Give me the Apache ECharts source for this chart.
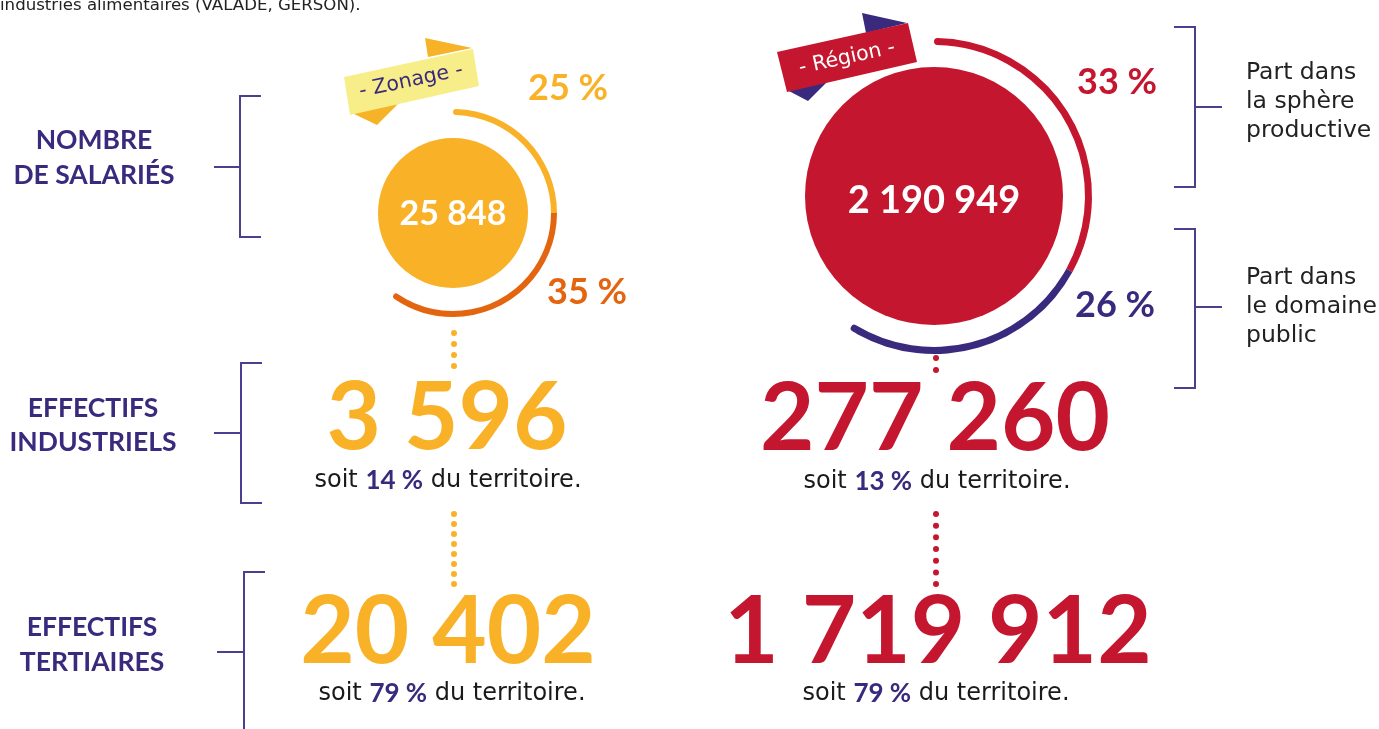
<!DOCTYPE html>
<html>
<head>
<meta charset="utf-8">
<script src="https://cdn.jsdelivr.net/npm/echarts@6/dist/echarts.min.js"></script>
<style>
  html, body { margin: 0; padding: 0; background: #fff; }
  #main { width: 1379px; height: 729px; }
</style>
</head>
<body>
<div id="main"></div>
<script>
const rowLabels = [['NOMBRE', 'DE SALARIÉS'], ['EFFECTIFS', 'INDUSTRIELS'], ['EFFECTIFS', 'TERTIAIRES']];
const zones = ['- Zonage -', '- Région -'];
const totalSalaries = [25848, 2190949];
const partProductive = [25, 33];
const partPublic = [35, 26];
const effIndus = [3596, 277260];
const pctIndus = [14, 13];
const effTert = [20402, 1719912];
const pctTert = [79, 79];
const sideLabels = [['Part dans', 'la sphère', 'productive'], ['Part dans', 'le domaine', 'public']];
const topText = 'industries alimentaires (VALADE, GERSON).';

const NAVY = '#3A2A7D';
const colors = [
  { main: '#F9B227', arc1: '#F9B227', arc2: '#E4650F', dot: '#F9B227' },
  { main: '#C4172F', arc1: '#C4172F', arc2: '#3A2A7D', dot: '#C4172F' }
];
const BOLD = 'Lato';
const REG = 'DejaVu Sans';

// mise en page
const circ = [
  { cx: 453, cy: 213, r: 75, r0: 98, r1: 104, fs: 34, dy: 1 },
  { cx: 934, cy: 196, r: 129, r0: 151, r1: 158, fs: 38, dy: 5 }
];
const pctPos = [
  [[568, 88], [587, 292]],
  [[1117, 82], [1115, 305]]
];
const bigPos = [[[447, 419], [448, 633]], [[935, 420], [938, 633]]];
const subPos = [[[448, 481], [452, 694]], [[937, 482], [936, 694]]];

const fmt = n => String(n).replace(/\B(?=(\d{3})+(?!\d))/g, ' ');

let chart = echarts.init(document.getElementById('main'));

let series = [];
circ.forEach((c, i) => {
  series.push({
    type: 'pie', silent: true, center: [c.cx, c.cy], radius: [0, c.r],
    label: { show: false }, labelLine: { show: false },
    data: [{ value: totalSalaries[i], itemStyle: { color: colors[i].main } }]
  });
  series.push({
    type: 'pie', silent: true, center: [c.cx, c.cy], radius: [c.r0, c.r1],
    startAngle: 90, clockwise: true,
    label: { show: false }, labelLine: { show: false },
    data: [
      { value: partProductive[i], itemStyle: { color: colors[i].arc1, borderRadius: [4, 0, 4, 0] } },
      { value: partPublic[i], itemStyle: { color: colors[i].arc2, borderRadius: [0, 4, 0, 4] } },
      { value: 100 - partProductive[i] - partPublic[i], itemStyle: { color: 'rgba(0,0,0,0)' } }
    ]
  });
});

let g = [];
const txt = (x, y, text, o) => g.push({
  type: 'text', x: x, y: y, rotation: o.rot || 0, z: 10,
  style: Object.assign({ text: text, align: 'center', verticalAlign: 'middle' }, o.style)
});

// total des salariés au centre des disques
circ.forEach((c, i) => txt(c.cx, c.cy + c.dy, fmt(totalSalaries[i]), {
  style: { fill: '#fff', fontFamily: BOLD, fontWeight: 'bold', fontSize: c.fs }
}));

// texte coupé en haut
txt(0, 6, topText, { style: { align: 'left', fill: '#222', fontFamily: REG, fontSize: 16.6 } });

// libellés de ligne
const rowY = [[140, 175], [408, 442], [627, 662]];
const rowX = [94, 93, 92];
rowLabels.forEach((lines, k) => lines.forEach((s, j) =>
  txt(rowX[k], rowY[k][j], s, { style: { fill: NAVY, fontFamily: BOLD, fontWeight: 'bold', fontSize: 26.5 } })));

// accolades gauche et droite
const brack = (x, y0, y1, dir, tickY, tickLen) => {
  g.push({ type: 'polyline', shape: { points: [[x + dir * 21, y0], [x, y0], [x, y1], [x + dir * 21, y1]] },
    style: { stroke: '#4B3F8F', lineWidth: 2, fill: null } });
  g.push({ type: 'line', shape: { x1: x, y1: tickY, x2: x - dir * tickLen, y2: tickY },
    style: { stroke: '#4B3F8F', lineWidth: 2 } });
};
brack(240, 96, 237, 1, 167, 26);
brack(241, 363, 503, 1, 433, 27);
brack(244, 572, 760, 1, 652, 27);
brack(1195, 27, 187, -1, 107, 27);
brack(1195, 229, 388, -1, 307, 27);

const sideY = [[73, 102, 131], [278, 307, 336]];
sideLabels.forEach((lines, k) => lines.forEach((s, j) =>
  txt(1246, sideY[k][j], s, { style: { align: 'left', fill: '#222', fontFamily: REG, fontSize: 23.5 } })));

// rubans
g.push({ type: 'polygon', shape: { points: [[425, 38], [472, 48], [428, 57]] }, style: { fill: '#F6B328' } });
g.push({ type: 'polygon', shape: { points: [[352, 113], [398, 104], [377, 125]] }, style: { fill: '#F6B328' } });
g.push({ type: 'polygon', shape: { points: [[344, 77], [473, 49], [479, 86], [350, 115]] }, style: { fill: '#F7EE8A' } });
txt(411, 81, zones[0], { rot: 12 * Math.PI / 180, style: { fill: NAVY, fontFamily: REG, fontSize: 20.5 } });

g.push({ type: 'polygon', shape: { points: [[862, 13], [907, 23], [866, 33]] }, style: { fill: NAVY } });
g.push({ type: 'polygon', shape: { points: [[787, 90], [828, 81], [808, 101]] }, style: { fill: NAVY } });
g.push({ type: 'polygon', shape: { points: [[777, 52], [908, 23], [917, 62], [787, 92]] }, style: { fill: '#C4172F' } });
txt(847, 58, zones[1], { rot: 12.5 * Math.PI / 180, style: { fill: '#fff', fontFamily: REG, fontSize: 20.5 } });

// pourcentages des arcs
[0, 1].forEach(i => {
  txt(pctPos[i][0][0], pctPos[i][0][1], partProductive[i] + ' %', { style: { fill: colors[i].arc1, fontFamily: BOLD, fontWeight: 'bold', fontSize: 36 } });
  txt(pctPos[i][1][0], pctPos[i][1][1], partPublic[i] + ' %', { style: { fill: colors[i].arc2, fontFamily: BOLD, fontWeight: 'bold', fontSize: 36 } });
});

// pointillés
const dots = (x, y0, y1, gap, col) => g.push({
  type: 'line', shape: { x1: x, y1: y0, x2: x, y2: y1 },
  style: { stroke: col, lineWidth: 6, lineCap: 'round', lineDash: [0.01, gap] }
});
dots(454, 333, 366.2, 11, colors[0].dot);
dots(936, 358, 370.2, 12, colors[1].dot);
dots(454, 514, 584.2, 10, colors[0].dot);
dots(936, 514, 584.2, 11.667, colors[1].dot);

// grands nombres et parts du territoire
const sub = (x, y, p) => txt(x, y, 'soit {b|' + p + ' %} du territoire.', {
  style: {
    fill: '#1a1a1a', fontFamily: REG, fontSize: 24,
    rich: { b: { fill: NAVY, fontFamily: BOLD, fontWeight: 'bold', fontSize: 26 } }
  }
});
[0, 1].forEach(i => {
  txt(bigPos[i][0][0], bigPos[i][0][1], fmt(effIndus[i]), { style: { fill: colors[i].main, fontFamily: BOLD, fontWeight: 'bold', fontSize: 94 } });
  txt(bigPos[i][1][0], bigPos[i][1][1], fmt(effTert[i]), { style: { fill: colors[i].main, fontFamily: BOLD, fontWeight: 'bold', fontSize: 94 } });
  sub(subPos[i][0][0], subPos[i][0][1], pctIndus[i]);
  sub(subPos[i][1][0], subPos[i][1][1], pctTert[i]);
});

chart.setOption({ animation: false, series: series, graphic: { elements: g } });

window.addEventListener('resize', function () { chart.resize(); });
</script>
</body>
</html>
